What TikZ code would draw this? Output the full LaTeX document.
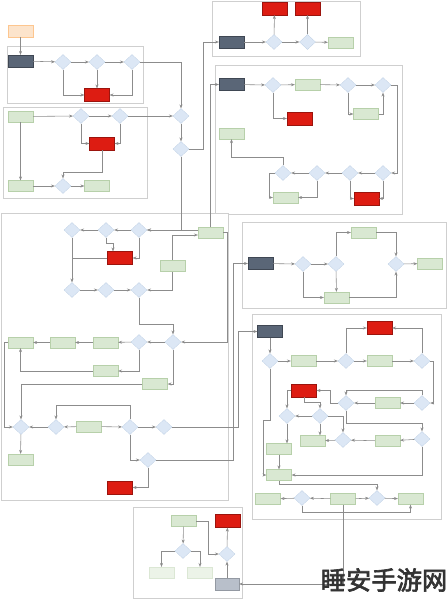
\documentclass[tikz,border=0pt]{standalone}
\usepackage{fontspec}
\usetikzlibrary{shapes.geometric,arrows.meta}
\newfontfamily\cjk[AutoFakeBold=2.5]{Noto Sans CJK SC}
\definecolor{slate}{HTML}{5A6677}
\definecolor{stopred}{HTML}{DD1C12}
\definecolor{actfill}{HTML}{D9E8D2}
\definecolor{actline}{HTML}{B7D0AA}
\definecolor{decfill}{HTML}{DCE7F5}
\definecolor{decline}{HTML}{AEC3DD}
\definecolor{peach}{HTML}{FCE4CC}
\definecolor{wire}{HTML}{8C8C8C}
\definecolor{frame}{HTML}{CFCFCF}
\definecolor{greybox}{HTML}{B8BFCA}
\begin{document}
\begin{tikzpicture}[x=1mm,y=-1mm,
  grp/.style={draw=frame, line width=1.5pt, fill=white},
  startbox/.style={rectangle, draw=peach!70!orange, fill=peach, minimum width=25mm, minimum height=12mm},
  term/.style={rectangle, draw=slate!70!black, fill=slate, minimum width=25mm, minimum height=12mm},
  stopbox/.style={rectangle, draw=stopred!70!black, fill=stopred, minimum width=25mm, minimum height=13mm},
  act/.style={rectangle, draw=actline, fill=actfill, minimum width=25mm, minimum height=11mm},
  pale/.style={act, draw=actline!50, fill=actfill!50},
  dec/.style={diamond, draw=decline, fill=decfill, minimum width=16mm, minimum height=15mm, inner sep=0pt},
  arr/.style={-{Stealth[length=4mm,width=3mm]}, draw=wire, line width=1.6pt},
  ln/.style={draw=wire, line width=1.6pt}
]
\fill[white] (0,0) rectangle (447,600);
\useasboundingbox (0,0) rectangle (447,600);

% group frames
\draw[grp] (7,46) rectangle (143,103);
\draw[grp] (3,107) rectangle (147,198);
\draw[grp] (212,1) rectangle (360,56);
\draw[grp] (215,65) rectangle (402,214);
\draw[grp] (1,213) rectangle (228,500);
\draw[grp] (242,222) rectangle (446,308);
\draw[grp] (252,314) rectangle (441,519);
\draw[grp] (133,507) rectangle (242,598);

% top left
\node[startbox] (start) at (20.5,31) {};
\node[term] (a0) at (20.5,61) {};
\node[dec] (a1) at (63,62) {};
\node[dec] (a2) at (97,62) {};
\node[dec] (a3) at (132,62) {};
\node[stopbox] (a4) at (97,95) {};

\node[act] (b0) at (20.5,116.5) {};
\node[dec] (b1) at (81,116) {};
\node[dec] (b2) at (120,116) {};
\node[stopbox] (b3) at (102,143.5) {};
\node[act] (b4) at (20.5,186) {};
\node[dec] (b5) at (63,186) {};
\node[act] (b6) at (97,186) {};

\node[dec] (d1) at (181,116) {};
\node[dec] (d2) at (181,149) {};

% top right
\node[term] (t0) at (231.5,42) {};
\node[dec] (t1) at (274,42) {};
\node[stopbox] (t2) at (274.5,8.5) {};
\node[stopbox] (t3) at (307.5,8.5) {};
\node[dec] (t4) at (307.5,42) {};
\node[act] (t5) at (340.5,42.5) {};

\node[term] (c0) at (231.5,84.5) {};
\node[dec] (c1) at (273,85) {};
\node[act] (c2) at (307.5,84.5) {};
\node[dec] (c3) at (348,85) {};
\node[dec] (c4) at (383,85) {};
\node[act] (c5) at (366,114) {};
\node[stopbox] (c6) at (299.5,118.5) {};
\node[act] (c7) at (231.5,133.5) {};
\node[dec] (c8) at (283,173) {};
\node[dec] (c9) at (317,173) {};
\node[dec] (c10) at (350,173) {};
\node[dec] (c11) at (383,173) {};
\node[stopbox] (c12) at (366.5,198.5) {};
\node[act] (c13) at (285.5,197.5) {};

% big left block
\node[dec] (e1) at (72,230) {};
\node[dec] (e2) at (106,230) {};
\node[dec] (e3) at (139,230) {};
\node[stopbox] (e4) at (120,258) {};
\node[act] (e5) at (172.5,266) {};
\node[act] (e6) at (210.5,232.5) {};
\node[dec] (e7) at (72,290) {};
\node[dec] (e8) at (106,290) {};
\node[dec] (e9) at (139,290) {};

\node[act] (f1) at (20.5,342.5) {};
\node[act] (f2) at (62.5,342.5) {};
\node[act] (f3) at (105.5,342.5) {};
\node[dec] (f4) at (139,342) {};
\node[dec] (f5) at (173,342) {};
\node[act] (f6) at (105.5,371) {};
\node[act] (f7) at (155,384) {};

\node[dec] (h1) at (21,427) {};
\node[dec] (h2) at (56,427) {};
\node[act] (h3) at (89,426.5) {};
\node[dec] (h4) at (130,427) {};
\node[dec] (h5) at (164,427) {};
\node[dec] (h6) at (148,460) {};
\node[act] (h7) at (20.5,459.5) {};
\node[stopbox] (h8) at (120,487.5) {};

% middle right
\node[term] (k0) at (260.5,263.5) {};
\node[dec] (k1) at (303,264) {};
\node[dec] (k2) at (336,264) {};
\node[act] (k3) at (363.5,232.5) {};
\node[dec] (k4) at (396,264) {};
\node[act] (k5) at (430,263.5) {};
\node[act] (k6) at (336.5,297.5) {};

% lower right
\node[term] (m0) at (270,331.5) {};
\node[dec] (m1) at (270,361) {};
\node[act] (m2) at (303.5,361) {};
\node[dec] (m3) at (346,361) {};
\node[act] (m4) at (379.5,361) {};
\node[dec] (m5) at (422,361) {};
\node[stopbox] (m6) at (379.5,328) {};
\node[dec] (m7) at (346,403) {};
\node[act] (m8) at (387.5,403) {};
\node[dec] (m9) at (422,403) {};
\node[stopbox] (m10) at (304,390.5) {};
\node[dec] (m11) at (287,416) {};
\node[dec] (m12) at (320,416) {};
\node[act] (m13) at (312.5,441) {};
\node[dec] (m14) at (343,440) {};
\node[act] (m15) at (387.5,441) {};
\node[dec] (m16) at (422,439) {};
\node[act] (m17) at (279,449) {};
\node[act] (m18) at (279,475) {};
\node[act] (m19) at (268,499) {};
\node[dec] (m20) at (302,498) {};
\node[act] (m21) at (343,499) {};
\node[dec] (m22) at (377,498) {};
\node[act] (m23) at (410.5,499) {};

% bottom
\node[act] (n1) at (183.5,521) {};
\node[stopbox] (n2) at (227.5,521) {};
\node[dec] (n3) at (183,551) {};
\node[dec] (n4) at (227,554) {};
\node[rectangle, draw=greybox!80!black, fill=greybox, minimum width=24mm, minimum height=12mm] (n5) at (227,584) {};
\node[pale] (n6) at (161.5,572.5) {};
\node[pale] (n7) at (200,572.5) {};

% connectors, top left
\draw[arr] (start) -- (a0);
\draw[arr] (a0) -- (a1);
\draw[arr] (a1) -- (a2);
\draw[arr] (a2) -- (a3);
\draw[arr] (a1.south) |- (a4.west);
\draw[arr] (a2) -- (a4);
\draw[arr] (a3.south) |- (a4.east);
\draw[arr] (a3.east) -| (d1.north);
\draw[arr] (b0) -- (b1);
\draw[arr] (b1) -- (b2);
\draw[arr] (b2) -- (d1);
\draw[arr] (b1.south) |- (b3.west);
\draw[arr] (b2.south) |- (b3.east);
\draw[arr] (b3.south) -- ++(0,22) -| (b5.north);
\draw[arr] (b0) -- (b4);
\draw[arr] (b4) -- (b5);
\draw[arr] (b5) -- (b6);
\draw[arr] (d1) -- (d2);
\draw[arr] (d2.east) -| (203,42) -- (t0.west);
\draw[arr] (d2.south) |- (e3.east);

% top right
\draw[arr] (t0) -- (t1);
\draw[arr] (t1) -- (t4);
\draw[arr] (t4) -- (t5);
\draw[arr] (t1) -- (t2);
\draw[arr] (t4) -- (t3);
\draw[arr] (e6.north) |- (c0.west);
\draw[arr] (c0) -- (c1);
\draw[arr] (c1) -- (c2);
\draw[arr] (c2) -- (c3);
\draw[arr] (c3) -- (c4);
\draw[arr] (c1.south) |- (c6.west);
\draw[arr] (c3.south) |- (c5.west);
\draw[arr] (c5.east) -| (c4.south);
\draw[arr] (c4.east) -- (397,85) |- (c11.east);
\draw[arr] (c11) -- (c10);
\draw[arr] (c10) -- (c9);
\draw[arr] (c9) -- (c8);
\draw[arr] (c10.south) |- (c12.west);
\draw[arr] (c11.south) |- (c12.east);
\draw[arr] (c8.west) -- (269,173) |- (c13.west);
\draw[arr] (c9.south) |- (c13.east);
\draw[arr] (c8.north) -- (283,157) -| (c7.south);

% big left block
\draw[arr] (e6.west |- e3.east) -- (e3.east);
\draw[arr] (e3) -- (e2);
\draw[arr] (e2) -- (e1);
\draw[arr] (e2.south) -- ++(0,6) -| ([xshift=-7mm]e4.north);
\draw[arr] (e3.south) |- (e4.east);
\draw[ln] (e4.west) -- (72,258);
\draw[arr] (e1) -- (e7);
\draw[arr] (e7) -- (e8);
\draw[arr] (e8) -- (e9);
\draw[arr] (e5.south) |- (e9.east);
\draw[arr] (e5.north) |- ([yshift=-2.5mm]e6.west);
\draw[arr] (e9.south) -- ++(0,27) -| (f5.north);
\draw[arr] (e6.east) -- (227,232.5) |- (f5.east);
\draw[arr] (f5) -- (f4);
\draw[arr] (f4) -- (f3);
\draw[arr] (f3) -- (f2);
\draw[arr] (f2) -- (f1);
\draw[arr] (f4.south) |- (f6.east);
\draw[arr] (f6.west) -| (f1.south);
\draw[arr] (f5.south) |- (f7.east);
\draw[arr] (f7.west) -| (h1.north);
\draw[arr] (f1.west) -- (4,342.5) |- (h1.west);
\draw[arr] (h2) -- (h1);
\draw[arr] (h3) -- (h2);
\draw[arr] (h3) -- (h4);
\draw[arr] (h4) -- (h5);
\draw[arr] (h4.north) -- ++(0,-14) -| (h2.north);
\draw[arr] (h1) -- (h7);
\draw[arr] (h4.south) |- (h6.west);
\draw[arr] (h6.south) |- (h8.east);
\draw[arr] (h6.east) -- (233,460) |- (k0.west);
\draw[arr] (h5.east) -- (238,427) |- (m0.west);

% middle right
\draw[arr] (k0) -- (k1);
\draw[arr] (k1) -- (k2);
\draw[arr] (k2.north) |- (k3.west);
\draw[arr] (k3.east) -| (k4.north);
\draw[arr] (k4) -- (k5);
\draw[arr] (k1.south) |- (k6.west);
\draw[arr] (k2) -- (k6);
\draw[arr] (k6.east) -| (k4.south);

% lower right
\draw[arr] (m0) -- (m1);
\draw[arr] (m1) -- (m2);
\draw[arr] (m2) -- (m3);
\draw[arr] (m3) -- (m4);
\draw[arr] (m4) -- (m5);
\draw[arr] (m3.north) |- (m6.west);
\draw[arr] (m5.north) |- (m6.east);
\draw[arr] (m5.east) -- (433,361) |- (m9.east);
\draw[arr] (m9) -- (m8);
\draw[arr] (m8) -- (m7);
\draw[arr] (m9.north) -- (422,390) -| (m7.north);
\draw[arr] (m7.west) -| (330,390.5) -- (m10.east);
\draw[arr] (m7.south) -- (346,423) -| (m16.north);
\draw[arr] (m10.west) -| (m11.north);
\draw[arr] (m10.south) -- ++(0,5) -| (m12.north);
\draw[arr] (m12) -- (m11);
\draw[arr] (m12.east) -| (m14.north);
\draw[arr] (m12.south) -- (m12.south |- m13.north);
\draw[arr] (m14) -- (m13);
\draw[arr] (m15) -- (m14);
\draw[arr] (m16) -- (m15);
\draw[arr] (m11.south) -- (m11.south |- m17.north);
\draw[arr] (m17) -- (m18);
\draw[arr] (m1.south) -- (270,420) -| (263,475) -- (m18.west);
\draw[arr] (m16.south) |- (m18.east);
\draw[arr] (m18.south) -- (279,484) -| (m22.north);
\draw[arr] (m20) -- (m19);
\draw[arr] (m21) -- (m20);
\draw[arr] (m21) -- (m22);
\draw[arr] (m22) -- (m23);
\draw[arr] (m20.south) -- ++(0,7) -| (m23.south);
\draw[arr] (m21.south) |- (n5.east);

% bottom
\draw[arr] (n1) -- (n3);
\draw[arr] (n3.west) -| (n6.north);
\draw[arr] (n3.east) -| (n7.north);
\draw[arr] (n1.east) -- (208,521) |- (n4.west);
\draw[arr] (n4) -- (n2);
\draw[arr] (n5) -- (n4);

\node[font=\cjk\bfseries\fontsize{72}{76}\selectfont, text=black!80] (mark) at (384,580) {睡安手游网};
\end{tikzpicture}
\end{document}
